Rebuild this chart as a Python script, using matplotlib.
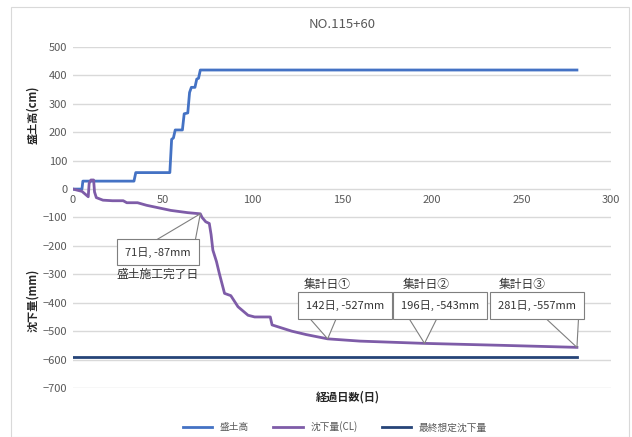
import numpy as np
import matplotlib.pyplot as plt
from matplotlib.patches import Rectangle

plt.rcParams['font.family'] = ['Noto Sans CJK JP', 'DejaVu Sans']

# 盛土高 (cm)
fill_days = [0, 5, 5.5, 34, 35, 54, 55, 56, 57, 61, 62, 64, 65, 66, 68, 69, 70, 71, 281]
fill_cm = [0, 0, 28, 28, 58, 58, 175, 180, 208, 208, 265, 268, 340, 358, 358, 387, 390, 419, 419]

# 沈下量 (CL) (mm)
settle_days = [0, 5, 8.5, 9, 10, 11.5, 12, 13, 16.7, 22, 28, 30, 36, 41, 47, 54.5, 64, 71,
               72, 74, 76, 77, 78, 80, 81.6, 84.5, 88, 92, 97.6, 101.3, 110, 111,
               122, 130, 142, 160, 196, 240, 281]
settle_mm = [0, -8, -27, 20, 32, 32, -10, -30, -39, -41, -41, -48, -48, -57, -65, -75, -83, -87,
             -100, -115, -121, -160, -215, -255, -297, -367, -375, -414, -444, -450, -450, -478,
             -500, -512, -527, -535, -543, -550, -557]

# 最終想定沈下量 (mm)
final_days = [0, 281]
final_mm = [-590, -590]

# callouts: target day, target value, label, heading
call_day = [71, 142, 196, 281]
call_val = [-87, -527, -543, -557]
call_lab = ['71日, -87mm', '142日, -527mm', '196日, -543mm', '281日, -557mm']
call_head = ['盛土施工完了日', '集計日①', '集計日②', '集計日③']
box_xy = [(47.4, -222), (151.7, -410), (204.7, -410), (258.8, -410)]
wedge_from = [(56, -222), (139, -410), (195, -410), (271.6, -410)]
head_xy = [(47.4, -300), (141.7, -335), (196.9, -335), (250.4, -335)]

W, H = 632, 437
fig = plt.figure(figsize=(W / 100, H / 100), dpi=100)
fig.patches.append(Rectangle((11 / W, 0), (629 - 11) / W, 1 - 7 / H, transform=fig.transFigure,
                             fill=False, ec='#D9D9D9', lw=0.8))
ax = fig.add_axes([73 / W, 1 - 388 / H, (611 - 73) / W, (388 - 47) / H])

gray = '#595959'
ax.plot(fill_days, fill_cm, color='#4472C4', lw=2, label='盛土高', zorder=3)
ax.plot(settle_days, settle_mm, color='#7E5CA8', lw=2, label='沈下量(CL)', zorder=3)
ax.plot(final_days, final_mm, color='#264478', lw=2, label='最終想定沈下量', zorder=3)

ax.set_xlim(0, 300)
ax.set_ylim(-700, 500)
ax.set_yticks(np.arange(-700, 501, 100))
ax.set_xticks(np.arange(0, 301, 50))
ax.grid(axis='y', color='#D9D9D9', lw=1)
ax.set_axisbelow(True)
for s in ['top', 'right', 'left']:
    ax.spines[s].set_visible(False)
ax.spines['bottom'].set_position(('data', 0))
ax.spines['bottom'].set_visible(False)
ax.tick_params(length=0, labelsize=8, colors=gray, pad=4)

ax.set_title('NO.115+60', fontsize=9.5, color=gray, pad=14)

for i in range(len(call_day)):
    ax.annotate('', xy=(call_day[i], call_val[i]), xytext=wedge_from[i], zorder=4,
                arrowprops=dict(arrowstyle='wedge,tail_width=3.8', fc='white', ec='#7F7F7F',
                                lw=0.8, shrinkA=0, shrinkB=0, mutation_scale=8))
    ax.text(box_xy[i][0], box_xy[i][1], call_lab[i], fontsize=8, color='#333333',
            ha='center', va='center', zorder=5,
            bbox=dict(boxstyle='square,pad=0.7', fc='white', ec='#7F7F7F', lw=0.8))
    ax.text(head_xy[i][0], head_xy[i][1], call_head[i], fontsize=8.5, color='#333333',
            ha='center', va='center', zorder=6)

fig.text(33 / W, 1 - 115 / H, '盛土高(cm)', rotation=90, fontsize=8, fontweight='bold',
         ha='center', va='center', color='#262626')
fig.text(33 / W, 1 - 300 / H, '沈下量(mm)', rotation=90, fontsize=8, fontweight='bold',
         ha='center', va='center', color='#262626')
fig.text(348 / W, 1 - 397 / H, '経過日数(日)', fontsize=8, fontweight='bold',
         ha='center', va='center', color='#262626')

fig.legend(loc='center', bbox_to_anchor=(335 / W, 1 - 427 / H), ncol=3, frameon=False,
           fontsize=7, labelcolor=gray, handlelength=3, columnspacing=2.5)

fig.savefig('out.png', dpi=100)
